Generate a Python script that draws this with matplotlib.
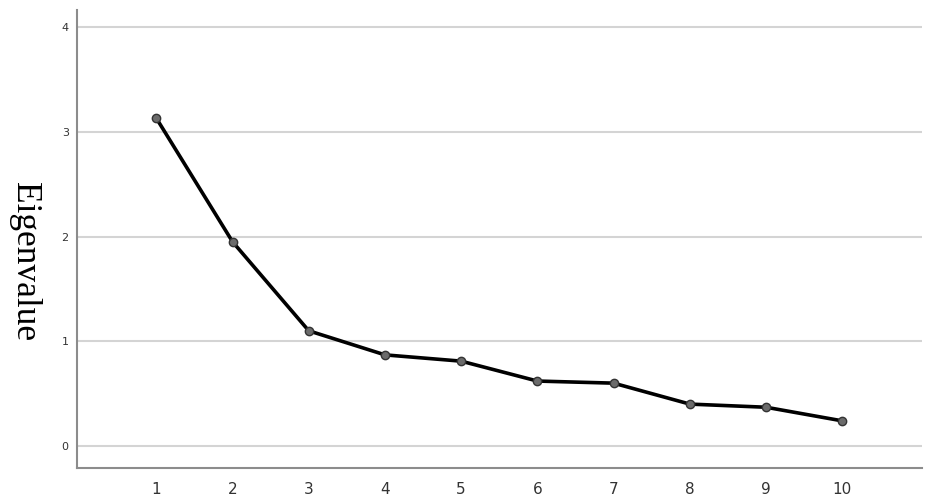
import matplotlib.pyplot as plt

components = [1, 2, 3, 4, 5, 6, 7, 8, 9, 10]
eigenvalues = [3.13, 1.95, 1.10, 0.87, 0.81, 0.62, 0.60, 0.40, 0.37, 0.24]
y_ticks = [0, 1, 2, 3, 4]

fig = plt.figure(figsize=(9.35, 5.03), dpi=100)
ax = fig.add_axes([0.0824, 0.0696, 0.904, 0.910])

ax.plot(components, eigenvalues, color='black', lw=2.6, zorder=3)
ax.plot(components, eigenvalues, 'o', ms=6, mfc='#6b6b6b', mec='#333333', mew=1, zorder=4)

ax.set_xlim(-0.04, 11.05)
ax.set_ylim(-0.21, 4.16)
ax.set_yticks(y_ticks)
ax.set_xticks(components)
ax.yaxis.grid(True, color='#d4d4d4', lw=1.5)
ax.set_axisbelow(True)

for s in ['top', 'right']:
    ax.spines[s].set_visible(False)
for s in ['left', 'bottom']:
    ax.spines[s].set_color('#8c8c8c')
    ax.spines[s].set_linewidth(1.5)

ax.tick_params(axis='y', length=0, labelsize=8, labelcolor='#333333', pad=6)
ax.tick_params(axis='x', length=0, labelsize=11, labelcolor='#333333', pad=10)

# label reads top-to-bottom in the original
fig.text(24 / 935, 1 - 262 / 503, 'Eigenvalue', family='Liberation Serif', fontsize=25.5,
         rotation=270, ha='center', va='center')

fig.savefig('out.png', dpi=100)
